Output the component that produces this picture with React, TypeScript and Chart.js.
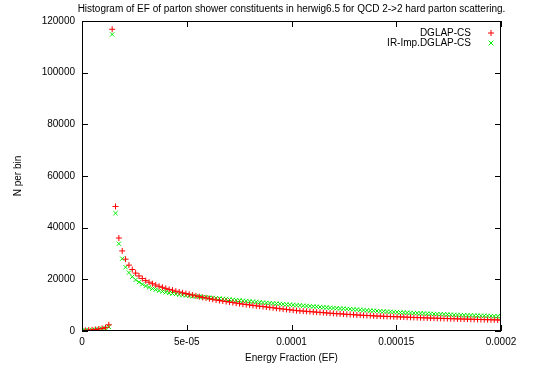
import React, { useEffect, useRef } from "react";
import { Chart, registerables } from "chart.js";

Chart.register(...registerables);

const TITLE = "Histogram of EF of parton shower constituents in herwig6.5 for QCD 2->2 hard parton scattering.";
const X_TITLE = "Energy Fraction (EF)";
const Y_TITLE = "N per bin";
const SERIES_NAMES = ["DGLAP-CS", "IR-Imp.DGLAP-CS"];
const X_TICKS = [0, 0.00005, 0.0001, 0.00015, 0.0002];
const X_TICK_LABELS = ["0", "5e-05", "0.0001", "0.00015", "0.0002"];
const Y_TICKS = [0, 20000, 40000, 60000, 80000, 100000, 120000];

// bin positions in units of 1e-6
const efMicro = [
  0, 1.6, 3.2, 4.8, 6.4, 8.0, 9.6, 11.2, 12.8, 14.4, 16.0, 17.6, 19.2, 20.8, 22.4, 24.0,
  25.6, 27.2, 28.8, 30.4, 32.0, 33.6, 35.2, 36.8, 38.4, 40.0, 41.6, 43.2, 44.8, 46.4, 48.0,
  49.6, 51.2, 52.8, 54.4, 56.0, 57.6, 59.2, 60.8, 62.4, 64.0, 65.6, 67.2, 68.8, 70.4, 72.0,
  73.6, 75.2, 76.8, 78.4, 80.0, 81.6, 83.2, 84.8, 86.4, 88.0, 89.6, 91.2, 92.8, 94.4, 96.0,
  97.6, 99.2, 100.8, 102.4, 104.0, 105.6, 107.2, 108.8, 110.4, 112.0, 113.6, 115.2, 116.8,
  118.4, 120.0, 121.6, 123.2, 124.8, 126.4, 128.0, 129.6, 131.2, 132.8, 134.4, 136.0, 137.6,
  139.2, 140.8, 142.4, 144.0, 145.6, 147.2, 148.8, 150.4, 152.0, 153.6, 155.2, 156.8, 158.4,
  160.0, 161.6, 163.2, 164.8, 166.4, 168.0, 169.6, 171.2, 172.8, 174.4, 176.0, 177.6, 179.2,
  180.8, 182.4, 184.0, 185.6, 187.2, 188.8, 190.4, 192.0, 193.6, 195.2, 196.8, 198.4, 200.0,
];

const dglapCS = [
  150, 250, 350, 450, 600, 800, 1000, 1300, 2400,
  116800, 48200, 36000, 31000, 27800, 25500, 23800, 22400, 21300, 20300,
  19500, 18900, 18300, 17800, 17300, 16900, 16500, 16100, 15800, 15400,
  15100, 14800, 14500, 14200, 13900, 13600, 13300, 13000, 12800, 12500,
  12300, 12000, 11800, 11600, 11400, 11200, 11000, 10800, 10600, 10400,
  10250, 10100, 9900, 9750, 9600, 9450, 9300, 9150, 9000, 8800,
  8650, 8500, 8350, 8200, 8050, 7900, 7800, 7700, 7600, 7500,
  7400, 7300, 7200, 7100, 7000, 6900, 6800, 6700, 6650, 6550,
  6450, 6400, 6300, 6200, 6150, 6050, 6000, 5950, 5850, 5800,
  5750, 5700, 5650, 5600, 5550, 5500, 5450, 5400, 5350, 5300,
  5250, 5200, 5150, 5100, 5050, 5000, 4980, 4940, 4900, 4850,
  4820, 4780, 4740, 4700, 4660, 4620, 4600, 4560, 4520, 4480,
  4450, 4420, 4380, 4350, 4320, 4290, 4250,
];

const irImpDglapCS = [
  100, 200, 300, 400, 500, 700, 900, 1100, 1600,
  114800, 45600, 33800, 28000, 24700, 22600, 21000, 19800, 18900, 18100,
  17400, 16900, 16400, 16000, 15600, 15300, 15000, 14700, 14500, 14300,
  14100, 13900, 13750, 13600, 13500, 13400, 13300, 13150, 13050, 12900,
  12800, 12700, 12550, 12450, 12350, 12200, 12100, 11950, 11850, 11700,
  11600, 11500, 11350, 11250, 11100, 11000, 10900, 10800, 10700, 10600,
  10500, 10400, 10300, 10200, 10100, 10000, 9900, 9800, 9700, 9600,
  9500, 9400, 9300, 9200, 9100, 9000, 8900, 8800, 8700, 8650,
  8550, 8500, 8400, 8300, 8200, 8100, 8000, 7900, 7850, 7750,
  7700, 7600, 7500, 7450, 7350, 7300, 7200, 7150, 7100, 7000,
  6950, 6900, 6850, 6800, 6700, 6650, 6600, 6550, 6500, 6450,
  6400, 6300, 6250, 6200, 6150, 6100, 6100, 6050, 6000, 5950,
  5900, 5900, 5850, 5800, 5750, 5700, 5700,
];

const RED = "#ff0000";
const GREEN = "#00ee00";
const FONT = "'Liberation Sans', Arial, Helvetica, sans-serif";

export default function App() {
  const ref = useRef<HTMLCanvasElement | null>(null);

  useEffect(() => {
    document.body.style.margin = "0";
    const canvas = ref.current;
    if (!canvas) return;

    const toPoints = (ys: number[]) => ys.map((y, i) => ({ x: efMicro[i] * 1e-6, y }));

    const decor = {
      id: "decor",
      afterDraw(chart: any) {
        const ctx = chart.ctx as CanvasRenderingContext2D;
        const a = chart.chartArea;
        const xs = chart.scales.x;
        const ys = chart.scales.y;
        ctx.save();
        ctx.strokeStyle = "#000";
        ctx.lineWidth = 1;
        ctx.strokeRect(a.left + 0.5, a.top + 0.5, a.right - a.left - 1, a.bottom - a.top - 1);
        const tl = 6;
        ctx.beginPath();
        X_TICKS.forEach((v) => {
          const px = Math.round(xs.getPixelForValue(v)) + 0.5;
          ctx.moveTo(px, a.bottom);
          ctx.lineTo(px, a.bottom - tl);
          ctx.moveTo(px, a.top);
          ctx.lineTo(px, a.top + tl);
        });
        Y_TICKS.forEach((v) => {
          const py = Math.round(ys.getPixelForValue(v)) + 0.5;
          ctx.moveTo(a.left, py);
          ctx.lineTo(a.left + tl, py);
          ctx.moveTo(a.right, py);
          ctx.lineTo(a.right - tl, py);
        });
        ctx.stroke();

        ctx.fillStyle = "#000";
        ctx.font = `10px ${FONT}`;
        ctx.textBaseline = "middle";
        ctx.textAlign = "center";
        const cx = (a.left + a.right) / 2;
        ctx.fillText(TITLE, cx, 9);
        ctx.fillText(X_TITLE, cx, 358);
        ctx.save();
        ctx.translate(18, (a.top + a.bottom) / 2);
        ctx.rotate(-Math.PI / 2);
        ctx.fillText(Y_TITLE, 0, 0);
        ctx.restore();

        ctx.textAlign = "right";
        const lx = a.right - 30;
        const mx = a.right - 10;
        const rows = [
          { name: SERIES_NAMES[0], color: RED, rot: 0 },
          { name: SERIES_NAMES[1], color: GREEN, rot: Math.PI / 4 },
        ];
        rows.forEach((r, i) => {
          const y = 33 + i * 10;
          ctx.fillStyle = "#000";
          ctx.fillText(r.name, lx, y);
          ctx.strokeStyle = r.color;
          ctx.lineWidth = 1;
          ctx.beginPath();
          const s = 3;
          if (r.rot === 0) {
            ctx.moveTo(mx - s, y);
            ctx.lineTo(mx + s, y);
            ctx.moveTo(mx, y - s);
            ctx.lineTo(mx, y + s);
          } else {
            ctx.moveTo(mx - s * 0.8, y - s * 0.8);
            ctx.lineTo(mx + s * 0.8, y + s * 0.8);
            ctx.moveTo(mx - s * 0.8, y + s * 0.8);
            ctx.lineTo(mx + s * 0.8, y - s * 0.8);
          }
          ctx.stroke();
        });
        ctx.restore();
      },
    };

    const chart = new Chart(canvas, {
      type: "scatter",
      data: {
        datasets: [
          {
            label: SERIES_NAMES[0],
            data: toPoints(dglapCS),
            pointStyle: "cross",
            radius: 3,
            borderColor: RED,
            backgroundColor: RED,
            borderWidth: 1,
          },
          {
            label: SERIES_NAMES[1],
            data: toPoints(irImpDglapCS),
            pointStyle: "crossRot",
            radius: 3,
            borderColor: GREEN,
            backgroundColor: GREEN,
            borderWidth: 1,
          },
        ],
      },
      options: {
        responsive: false,
        animation: false,
        events: [],
        layout: { padding: { left: 0, top: 21, right: 43, bottom: 0 } },
        plugins: {
          legend: { display: false },
          title: { display: false },
          tooltip: { enabled: false },
        },
        scales: {
          x: {
            type: "linear",
            min: 0,
            max: 0.0002,
            afterBuildTicks: (scale: any) => {
              scale.ticks = X_TICKS.map((v) => ({ value: v }));
            },
            afterFit: (scale: any) => {
              scale.height = 40;
            },
            grid: { display: false, drawTicks: false },
            border: { display: false },
            ticks: {
              padding: 5,
              maxRotation: 0,
              autoSkip: false,
              color: "#000",
              font: { family: FONT, size: 10 },
              callback: (_v: any, i: number) => X_TICK_LABELS[i],
            },
          },
          y: {
            type: "linear",
            min: 0,
            max: 120000,
            afterBuildTicks: (scale: any) => {
              scale.ticks = Y_TICKS.map((v) => ({ value: v }));
            },
            afterFit: (scale: any) => {
              scale.width = 82;
            },
            grid: { display: false, drawTicks: false },
            border: { display: false },
            ticks: {
              padding: 7,
              autoSkip: false,
              color: "#000",
              font: { family: FONT, size: 10 },
              callback: (v: any) => String(v),
            },
          },
        },
      },
      plugins: [decor],
    });

    return () => chart.destroy();
  }, []);

  return <canvas ref={ref} width={544} height={371} style={{ display: "block" }} />;
}
